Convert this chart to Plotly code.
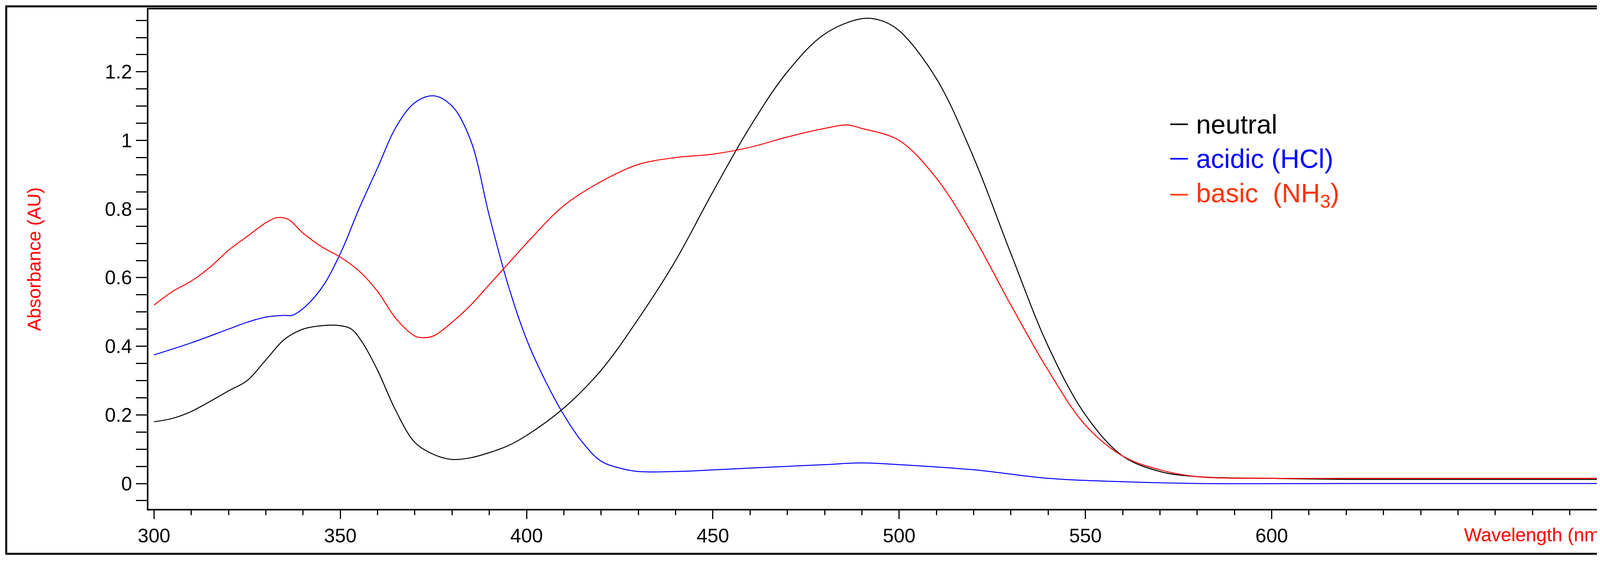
import plotly.graph_objects as go

neutral_x = [300,305,310,320,325,330,335,340,345,350,353,356,360,365,370,375,380,385,390,395,400,410,420,430,440,450,460,470,480,490,495,500,510,520,530,540,550,560,570,580,600,620,650,700]
neutral_y = [0.18,0.19,0.21,0.27,0.30,0.36,0.42,0.45,0.46,0.46,0.45,0.41,0.33,0.21,0.12,0.085,0.07,0.075,0.09,0.11,0.14,0.22,0.33,0.48,0.65,0.85,1.04,1.20,1.31,1.355,1.35,1.32,1.18,0.95,0.67,0.40,0.20,0.08,0.035,0.02,0.015,0.012,0.012,0.012]

acid_x = [300,310,320,325,330,335,337,340,345,350,355,360,365,370,375,380,385,390,395,400,405,410,415,420,425,430,440,460,480,490,500,520,540,560,580,620,650,700]
acid_y = [0.375,0.41,0.45,0.47,0.485,0.49,0.49,0.51,0.57,0.67,0.80,0.92,1.04,1.11,1.13,1.10,1.00,0.78,0.58,0.42,0.30,0.20,0.12,0.065,0.045,0.035,0.035,0.045,0.055,0.06,0.055,0.04,0.015,0.005,0.0,0.0,0.0,0.0]

basic_x = [300,305,310,315,320,325,330,333,336,340,345,350,355,360,365,370,372,375,380,385,390,395,400,410,420,430,440,450,460,470,480,486,490,500,510,520,530,540,550,560,570,580,600,620,650,700]
basic_y = [0.52,0.56,0.59,0.63,0.68,0.72,0.76,0.775,0.77,0.73,0.69,0.66,0.62,0.56,0.48,0.43,0.425,0.43,0.47,0.52,0.58,0.64,0.70,0.81,0.88,0.93,0.95,0.96,0.98,1.01,1.035,1.045,1.035,1.00,0.89,0.72,0.52,0.33,0.17,0.08,0.04,0.02,0.015,0.015,0.015,0.015]

x_ticks = [300,350,400,450,500,550,600]
y_ticks = [0,0.2,0.4,0.6,0.8,1.0,1.2]
y_tick_labels = ["0","0.2","0.4","0.6","0.8","1","1.2"]

FONT = "Liberation Sans, Arial, sans-serif"
fig = go.Figure()
for xs, ys, c in [(neutral_x, neutral_y, "black"), (acid_x, acid_y, "#0000ff"), (basic_x, basic_y, "#ff0000")]:
    fig.add_trace(go.Scatter(x=xs, y=ys, mode="lines", line=dict(color=c, width=2.5, shape="spline"), showlegend=False))

fig.update_layout(
    width=4145, height=1420,
    margin=dict(l=372, r=20, t=12, b=125),
    paper_bgcolor="white", plot_bgcolor="white",
    font=dict(family=FONT, size=50, color="black"),
)
fig.update_xaxes(range=[298.5, 692], showgrid=False, zeroline=False,
                 showline=True, linecolor="black", linewidth=4, mirror=True,
                 tickmode="array", tickvals=x_ticks, ticktext=[str(v) for v in x_ticks],
                 ticks="outside", ticklen=22, tickwidth=3, tickcolor="black",
                 minor=dict(dtick=10, ticks="outside", ticklen=12, tickwidth=3, tickcolor="black"),
                 tickfont=dict(size=50))
fig.update_yaxes(range=[-0.074, 1.382], showgrid=False, zeroline=False,
                 showline=True, linecolor="black", linewidth=4, mirror=True,
                 tickmode="array", tickvals=y_ticks, ticktext=y_tick_labels,
                 ticks="outside", ticklen=28, tickwidth=3, tickcolor="black",
                 minor=dict(dtick=0.05, ticks="outside", ticklen=28, tickwidth=3, tickcolor="black"),
                 tickfont=dict(size=50),
                 title=dict(text="Absorbance (AU)", font=dict(size=48, color="#ff0000"), standoff=150))

# x axis title at bottom right, on the tick-label row
fig.add_annotation(x=0.995, y=-0.03, xref="paper", yref="paper", xanchor="right", yanchor="top",
                   text="Wavelength (nm)", showarrow=False, font=dict(size=48, color="#ff0000"))

# legend
legend = [("neutral", "black", 0.770), ("acidic (HCl)", "#0000ff", 0.701), ("basic  (NH<sub>3</sub>)", "#ff3300", 0.629)]
for txt, c, yy in legend:
    fig.add_shape(type="line", xref="paper", yref="paper", x0=0.697, x1=0.709, y0=yy, y1=yy, line=dict(color=c, width=4))
    fig.add_annotation(x=0.714, y=yy, xref="paper", yref="paper", xanchor="left", yanchor="middle",
                       text=txt, showarrow=False, font=dict(size=68, color=c))

# outer frame
fig.add_shape(type="rect", xref="paper", yref="paper", x0=-0.097, x1=1.003, y0=-0.09, y1=1.006,
              line=dict(color="black", width=5), fillcolor="rgba(0,0,0,0)")

fig.write_html("out.html")
